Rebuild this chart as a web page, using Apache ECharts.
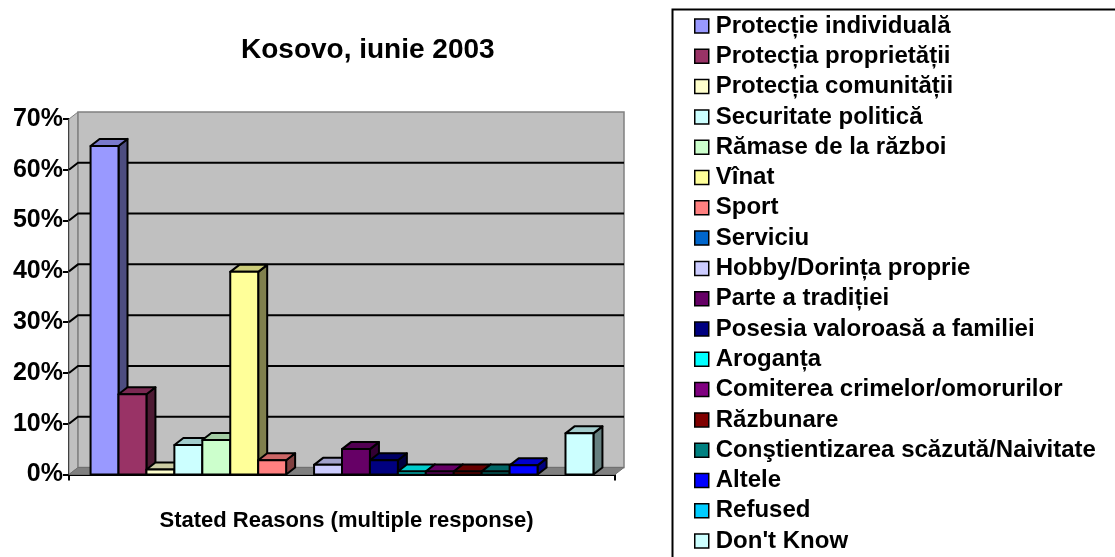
<!DOCTYPE html>
<html>
<head>
<meta charset="utf-8">
<title>Kosovo, iunie 2003</title>
<script src="https://cdn.jsdelivr.net/npm/echarts@6/dist/echarts.min.js"></script>
<style>
  html, body { margin: 0; padding: 0; background: #fff; }
  #chart { width: 1115px; height: 557px; }
</style>
</head>
<body>
<div id="chart"></div>
<script>
// data
const categories = [
  'Protecție individuală',
  'Protecția proprietății',
  'Protecția comunității',
  'Securitate politică',
  'Rămase de la război',
  'Vînat',
  'Sport',
  'Serviciu',
  'Hobby/Dorința proprie',
  'Parte a tradiției',
  'Posesia valoroasă a familiei',
  'Aroganța',
  'Comiterea crimelor/omorurilor',
  'Răzbunare',
  'Conştientizarea scăzută/Naivitate',
  'Altele',
  'Refused',
  "Don't Know",
];
const values = [64.7, 15.8, 1.0, 5.8, 6.8, 39.9, 2.8, 0, 1.9, 5.0, 2.8, 0.6, 0.6, 0.6, 0.6, 1.8, 0, 8.1];
const colors = [
  '#9999FF', '#993366', '#FFFFCC', '#CCFFFF', '#CCFFCC', '#FFFF99',
  '#FF8080', '#0066CC', '#CCCCFF', '#660066', '#000080', '#00FFFF',
  '#800080', '#800000', '#008080', '#0000FF', '#00CCFF', '#CCFFFF',
];
const xName = 'Stated Reasons (multiple response)';
const gridValues = [10, 20, 30, 40, 50, 60];

const FONT = "'Liberation Sans', Arial, sans-serif";
const DX = 9; // depth of the 3d look
const DY = -7;
const FILL = 0.921; // share of the category used by the bars

function shade(hex, k) {
  const n = parseInt(hex.slice(1), 16);
  const r = Math.round(((n >> 16) & 255) * k);
  const g = Math.round(((n >> 8) & 255) * k);
  const b = Math.round((n & 255) * k);
  return 'rgb(' + r + ',' + g + ',' + b + ')';
}

function renderWall(params, api) {
  const cs = params.coordSys;
  const x = cs.x, y = cs.y, w = cs.width, h = cs.height;
  const children = [
    {
      type: 'polygon',
      shape: { points: [[x, y], [x + DX, y + DY], [x + DX, y + h + DY], [x, y + h]] },
      style: { fill: '#C0C0C0', stroke: '#808080', lineWidth: 1 },
    },
    {
      type: 'rect',
      shape: { x: x + DX, y: y + DY, width: w, height: h },
      style: { fill: '#C0C0C0', stroke: '#808080', lineWidth: 1.5 },
    },
    {
      type: 'polygon',
      shape: { points: [[x, y + h], [x + DX, y + h + DY], [x + w + DX, y + h + DY], [x + w, y + h]] },
      style: { fill: '#808080', stroke: '#707070', lineWidth: 1 },
    },
  ];
  gridValues.forEach((v) => {
    const yy = api.coord([0, v])[1];
    children.push({
      type: 'polyline',
      shape: { points: [[x, yy], [x + DX, yy + DY], [x + w + DX, yy + DY]] },
      style: { fill: null, stroke: '#000', lineWidth: 2 },
    });
  });
  return { type: 'group', children: children };
}

function barRenderer(k) {
  return function (params, api) {
    const v = api.value(1);
    if (!v) {
      return;
    }
    const top = api.coord([api.value(0), v]);
    const base = api.coord([api.value(0), 0]);
    const catW = api.size([1, 0])[0];
    const bw = (catW * FILL) / categories.length;
    const x0 = top[0] - (catW * FILL) / 2 + k * bw;
    const x1 = x0 + bw;
    const yT = top[1];
    const yB = base[1];
    const c = colors[k];
    const line = { stroke: '#000', lineWidth: 2, lineJoin: 'round' };
    return {
      type: 'group',
      children: [
        {
          type: 'polygon',
          shape: { points: [[x1, yT], [x1 + DX, yT + DY], [x1 + DX, yB + DY], [x1, yB]] },
          style: Object.assign({ fill: shade(c, 0.5) }, line),
        },
        {
          type: 'polygon',
          shape: { points: [[x0, yT], [x0 + DX, yT + DY], [x1 + DX, yT + DY], [x1, yT]] },
          style: Object.assign({ fill: shade(c, 0.8) }, line),
        },
        {
          type: 'rect',
          shape: { x: x0, y: yT, width: bw, height: yB - yT },
          style: Object.assign({ fill: c }, line),
        },
      ],
    };
  };
}

const series = [
  {
    name: 'wall',
    type: 'custom',
    silent: true,
    renderItem: renderWall,
    data: [[0, 0]],
    z: 1,
  },
];
categories.forEach((name, k) => {
  series.push({
    name: name,
    type: 'custom',
    renderItem: barRenderer(k),
    itemStyle: { color: colors[k] },
    data: [[0, values[k]]],
    z: 2,
  });
});

const chart = echarts.init(document.getElementById('chart'));
chart.setOption({
  animation: false,
  textStyle: { fontFamily: FONT },
  title: {
    text: 'Kosovo, iunie 2003',
    left: 241,
    top: 36,
    padding: 0,
    textStyle: { fontFamily: FONT, fontWeight: 'bold', fontSize: 28, color: '#000' },
  },
  legend: {
    data: categories,
    orient: 'vertical',
    left: 694,
    top: 14,
    height: 600,
    icon: 'rect',
    itemWidth: 14,
    itemHeight: 14,
    itemGap: 6.3,
    padding: 0,
    itemStyle: { borderColor: '#000', borderWidth: 1.5 },
    textStyle: {
      fontFamily: FONT,
      fontWeight: 'bold',
      fontSize: 24,
      color: '#000',
      padding: [0, 0, 0, 2],
    },
  },
  graphic: [
    {
      type: 'rect',
      left: 670,
      top: 7,
      shape: { width: 600, height: 600 },
      style: { fill: null, stroke: '#000', lineWidth: 2 },
      silent: true,
    },
  ],
  grid: {
    left: 69,
    right: 500,
    top: 119,
    bottom: 82.5,
  },
  xAxis: {
    type: 'category',
    data: [''],
    name: xName,
    nameLocation: 'middle',
    nameGap: 35,
    nameTextStyle: {
      fontFamily: FONT,
      fontWeight: 'bold',
      fontSize: 22,
      color: '#000',
      padding: [0, 0, 0, 9],
    },
    axisLine: { lineStyle: { color: '#000', width: 2 } },
    axisTick: { show: true, length: 6, lineStyle: { color: '#000', width: 2 } },
    axisLabel: { show: false },
  },
  yAxis: {
    type: 'value',
    min: 0,
    max: 70,
    interval: 10,
    axisLine: { show: true, lineStyle: { color: '#000', width: 2 } },
    axisTick: { show: true, length: 6, lineStyle: { color: '#000', width: 2 } },
    splitLine: { show: false },
    axisLabel: {
      formatter: '{value}%',
      margin: 6,
      fontFamily: FONT,
      fontWeight: 'bold',
      fontSize: 25,
      color: '#000',
    },
  },
  series: series,
});
</script>
</body>
</html>
